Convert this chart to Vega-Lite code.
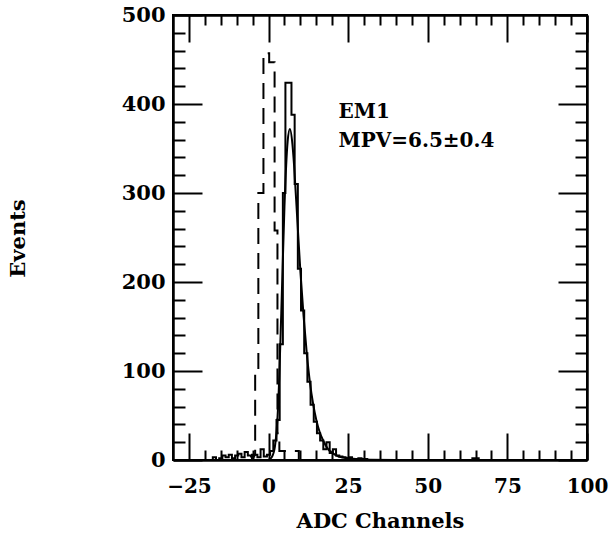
{
  "$schema": "https://vega.github.io/schema/vega-lite/v6.json",
  "width": 414,
  "height": 445,
  "autosize": {"type": "none"},
  "padding": {"left": 173, "top": 15, "right": 25, "bottom": 74},
  "background": "white",
  "config": {
    "view": {"stroke": "black", "strokeWidth": 2},
    "axis": {
      "domainColor": "black", "domainWidth": 2.5, "tickColor": "black", "tickWidth": 2,
      "labelFont": "DejaVu Serif", "labelFontWeight": "bold", "labelColor": "black",
      "titleFont": "DejaVu Serif", "titleFontWeight": "bold", "titleColor": "black",
      "grid": false
    }
  },
  "datasets": {
    "hist": [
      {"x": -30, "n": 0}, {"x": -17.5, "n": 3}, {"x": -16.5, "n": 0}, {"x": -15.5, "n": 2}, {"x": -14.5, "n": 5},
      {"x": -13.5, "n": 3}, {"x": -12.5, "n": 6}, {"x": -11.5, "n": 2}, {"x": -10.5, "n": 5}, {"x": -9.5, "n": 7},
      {"x": -8.5, "n": 3}, {"x": -7.5, "n": 9}, {"x": -6.5, "n": 5}, {"x": -5.5, "n": 4}, {"x": -4.5, "n": 6},
      {"x": -3.5, "n": 3}, {"x": -2.5, "n": 12}, {"x": -1.5, "n": 4}, {"x": -0.5, "n": 6}, {"x": 0.5, "n": 10},
      {"x": 1.5, "n": 22}, {"x": 2.5, "n": 45}, {"x": 3.5, "n": 130}, {"x": 4.5, "n": 300}, {"x": 5.3, "n": 424},
      {"x": 7.2, "n": 388}, {"x": 8.2, "n": 310}, {"x": 9.2, "n": 215}, {"x": 10.2, "n": 168}, {"x": 11.2, "n": 120},
      {"x": 12.2, "n": 88}, {"x": 13.2, "n": 62}, {"x": 14.2, "n": 43}, {"x": 15.2, "n": 30}, {"x": 16.2, "n": 22},
      {"x": 17.2, "n": 12}, {"x": 18.2, "n": 20}, {"x": 19.2, "n": 8}, {"x": 20.2, "n": 12}, {"x": 21.2, "n": 5},
      {"x": 22.2, "n": 4}, {"x": 23.2, "n": 3}, {"x": 24.2, "n": 2}, {"x": 25.2, "n": 3}, {"x": 26.2, "n": 1},
      {"x": 28.2, "n": 2}, {"x": 29.2, "n": 1}, {"x": 31, "n": 0}, {"x": 64, "n": 2}, {"x": 66, "n": 0}, {"x": 100, "n": 0}
    ],
    "ped": [
      {"x": -6, "n": 0}, {"x": -5.2, "n": 6}, {"x": -4.2, "n": 100}, {"x": -3.2, "n": 300}, {"x": -1.6, "n": 457},
      {"x": 0.2, "n": 447}, {"x": 1.9, "n": 258}, {"x": 2.8, "n": 30}, {"x": 3.4, "n": 10}, {"x": 9.5, "n": 0}, {"x": 11, "n": 0}
    ],
    "fit": [
      {"x": 0, "n": 0}, {"x": 1, "n": 3}, {"x": 2, "n": 15}, {"x": 3, "n": 60}, {"x": 4, "n": 165},
      {"x": 5, "n": 285}, {"x": 6, "n": 358}, {"x": 6.7, "n": 372}, {"x": 7.5, "n": 355}, {"x": 8, "n": 332},
      {"x": 9, "n": 272}, {"x": 10, "n": 212}, {"x": 11, "n": 162}, {"x": 12, "n": 120}, {"x": 13, "n": 87},
      {"x": 14, "n": 63}, {"x": 15, "n": 45}, {"x": 16, "n": 32}, {"x": 17, "n": 23}, {"x": 18, "n": 16},
      {"x": 19, "n": 11}, {"x": 20, "n": 8}, {"x": 22, "n": 4}, {"x": 25, "n": 2}, {"x": 30, "n": 0.5}, {"x": 40, "n": 0}
    ],
    "notes": [
      {"x": 22, "n": 384, "t": "EM1"},
      {"x": 22, "n": 352, "t": "MPV=6.5±0.4"}
    ]
  },
  "layer": [
    {
      "data": {"name": "hist"},
      "mark": {"type": "line", "interpolate": "step-after", "color": "black", "strokeWidth": 2},
      "encoding": {
        "x": {"field": "x", "type": "quantitative", "scale": {"domain": [-30, 100], "nice": false, "zero": false},
          "axis": {"orient": "bottom", "title": "ADC Channels", "values": [-25,-20,-15,-10,-5,0,5,10,15,20,25,30,35,40,45,50,55,60,65,70,75,80,85,90,95,100],
            "tickSize": {"condition": {"test": "datum.value % 25 === 0", "value": -27}, "value": -10},
            "labelExpr": "datum.value % 25 === 0 ? datum.label : ''",
            "labelFontSize": 20, "labelPadding": 43, "titleFontSize": 21, "titleX": 207, "titleY": 67, "titleBaseline": "alphabetic", "labelFlush": false, "labelOverlap": false}},
        "y": {"field": "n", "type": "quantitative", "scale": {"domain": [0, 500], "nice": false},
          "axis": {"orient": "left", "title": "Events", "values": [0,20,40,60,80,100,120,140,160,180,200,220,240,260,280,300,320,340,360,380,400,420,440,460,480,500],
            "tickSize": {"condition": {"test": "datum.value % 100 === 0", "value": -29}, "value": -12},
            "labelExpr": "datum.value % 100 === 0 ? datum.label : ''",
            "labelFontSize": 21, "labelPadding": 37, "titleFontSize": 21, "titleX": -145, "titleY": 223, "labelFlush": false, "labelOverlap": false}}
      }
    },
    {
      "data": {"name": "fit"},
      "mark": {"type": "line", "interpolate": "monotone", "color": "black", "strokeWidth": 2},
      "encoding": {
        "x": {"field": "x", "type": "quantitative", "axis": {"orient": "top", "title": null, "labels": false, "values": [-25,-20,-15,-10,-5,0,5,10,15,20,25,30,35,40,45,50,55,60,65,70,75,80,85,90,95,100],
            "tickSize": {"condition": {"test": "datum.value % 25 === 0", "value": -27}, "value": -10}}},
        "y": {"field": "n", "type": "quantitative", "axis": {"orient": "right", "title": null, "labels": false, "values": [0,20,40,60,80,100,120,140,160,180,200,220,240,260,280,300,320,340,360,380,400,420,440,460,480,500],
            "tickSize": {"condition": {"test": "datum.value % 100 === 0", "value": -29}, "value": -12}}}
      }
    },
    {
      "data": {"name": "ped"},
      "mark": {"type": "line", "interpolate": "step-after", "color": "black", "strokeWidth": 2, "strokeDash": [16, 9]},
      "encoding": {
        "x": {"field": "x", "type": "quantitative", "axis": null},
        "y": {"field": "n", "type": "quantitative", "axis": null}
      }
    },
    {
      "data": {"name": "notes"},
      "mark": {"type": "text", "align": "left", "baseline": "alphabetic", "font": "DejaVu Serif", "fontWeight": "bold", "fontSize": 20, "color": "black"},
      "encoding": {
        "x": {"field": "x", "type": "quantitative", "axis": null},
        "y": {"field": "n", "type": "quantitative", "axis": null},
        "text": {"field": "t"}
      }
    }
  ],
  "resolve": {"axis": {"x": "independent", "y": "independent"}}
}
